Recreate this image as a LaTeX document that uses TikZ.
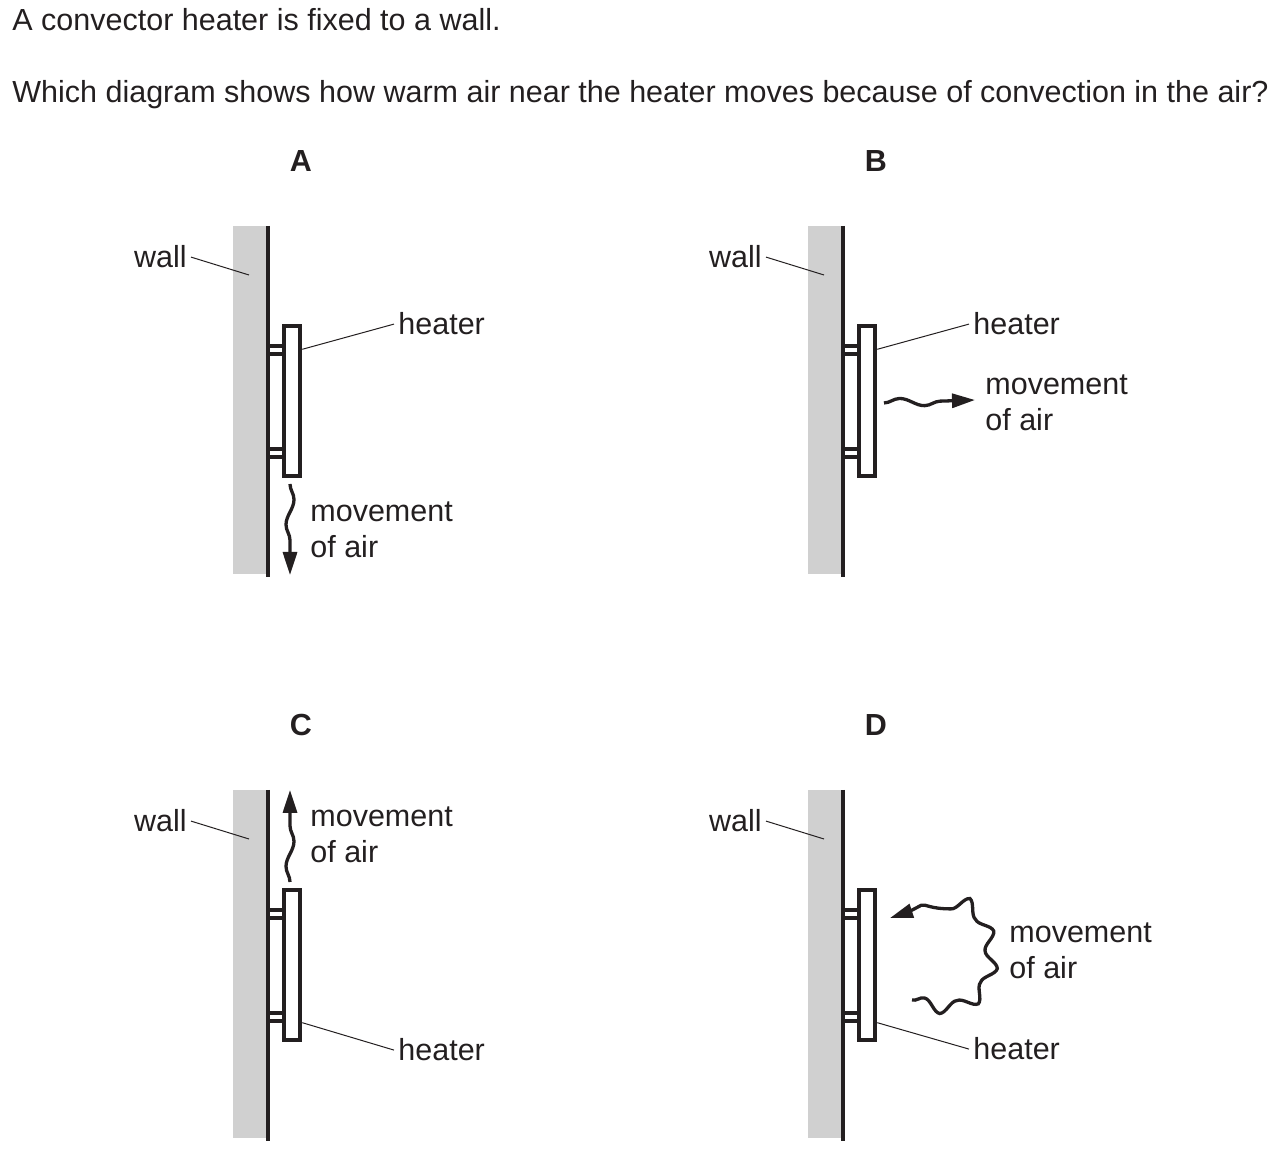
\documentclass[tikz,border=0pt]{standalone}
\usepackage{fontspec}
\setmainfont{Liberation Sans}
\usetikzlibrary{positioning,arrows.meta,calc,decorations.pathmorphing}
\definecolor{wallgrey}{HTML}{D0D0D0}
\definecolor{ink}{HTML}{231F20}

% wall, heater with its two brackets, and the wall label
\newcommand{\wallunit}{%
  \fill[wallgrey] (233.3,226) rectangle (266,574);
  \draw[wallline] (268,226) -- (268,577);
  \draw[bracket] (268,346.3) rectangle (283.7,354.5);
  \draw[bracket] (268,448.7) rectangle (283.7,457.2);
  \node[heaterbox] (heater) at (292,401) {};
  \node[lbl, anchor=base east] (walltxt) at (191,268) {wall};
  \coordinate (wallpt) at (249,275);
  \draw[leader] (walltxt.east) -- (wallpt);
}

\begin{document}
\begin{tikzpicture}[x=0.5pt,y=-0.5pt,
  lbl/.style={font=\fontsize{15.25}{18.25}\selectfont, text=ink, inner sep=2pt},
  tag/.style={lbl, font=\fontsize{15.25}{18.25}\selectfont\bfseries},
  wallline/.style={draw=ink, line width=2.1pt},
  bracket/.style={draw=ink, line width=2pt},
  heaterbox/.style={draw=ink, fill=white, line width=2pt, minimum width=8.3pt, minimum height=74.7pt, inner sep=0pt},
  leader/.style={draw=ink, line width=0.5pt},
  airflow/.style={draw=ink, line width=1.65pt, -{Triangle[length=11.5pt,width=7pt]},
    decoration={snake, amplitude=2pt, segment length=25pt, post length=12pt}, decorate}]
\useasboundingbox (0,0) rectangle (1282,1165);

\node[lbl, anchor=base west] (q1) at (8,31) {A convector heater is fixed to a wall.};
\node[lbl, anchor=base west] (q2) at (8,103) {Which diagram shows how warm air near the heater moves because of convection in the air?};

% option A
\begin{scope}[name prefix=A-]
\wallunit
\node[tag] (tag) at (301,161) {A};
\node[lbl, anchor=base west] (heatertxt) at (394,335) {heater};
\draw[leader] ($(heater.north east)+(0,25)$) -- (heatertxt.west);
\node[lbl, align=left, anchor=base west] (airtxt) at (306,558) {movement\\of air};
\coordinate (airfrom) at (290,484);
\coordinate (airto) at (290,575);
\draw[airflow] (airfrom) -- (airto);
\end{scope}

% option B
\begin{scope}[shift={(575,0)}, name prefix=B-]
\wallunit
\node[tag] (tag) at (301,161) {B};
\node[lbl, anchor=base west] (heatertxt) at (394,335) {heater};
\draw[leader] ($(heater.north east)+(0,25)$) -- (heatertxt.west);
\node[lbl, align=left, anchor=base west] (airtxt) at (406,431) {movement\\of air};
\coordinate (airfrom) at (309,403);
\coordinate (airto) at (400,400);
\draw[airflow] (airfrom) -- (airto);
\end{scope}

% option C
\begin{scope}[shift={(0,564)}, name prefix=C-]
\wallunit
\node[tag] (tag) at (301,161) {C};
\node[lbl, anchor=base west] (heatertxt) at (394,497) {heater};
\draw[leader] ($(heater.south east)+(0,-19)$) -- (heatertxt.west);
\node[lbl, align=left, anchor=base west] (airtxt) at (306,299) {movement\\of air};
\coordinate (airfrom) at (290,318);
\coordinate (airto) at (290,226);
\draw[airflow] (airfrom) -- (airto);
\end{scope}

% option D
\begin{scope}[shift={(575,564)}, name prefix=D-]
\wallunit
\node[tag] (tag) at (301,161) {D};
\node[lbl, anchor=base west] (heatertxt) at (394,496) {heater};
\draw[leader] ($(heater.south east)+(0,-19)$) -- (heatertxt.west);
\node[lbl, align=left, anchor=base west] (airtxt) at (430,415) {movement\\of air};
\coordinate (airfrom) at (337,436);
\coordinate (airto) at (315,354);
\draw[airflow, decoration={segment length=18pt, amplitude=3pt, post length=10pt}]
  (airfrom) .. controls (383,452) and (409,425) .. (408,391)
  .. controls (407,355) and (392,330) .. (364,336)
  .. controls (345,340) and (335,350) .. (airto);
\end{scope}
\end{tikzpicture}
\end{document}
